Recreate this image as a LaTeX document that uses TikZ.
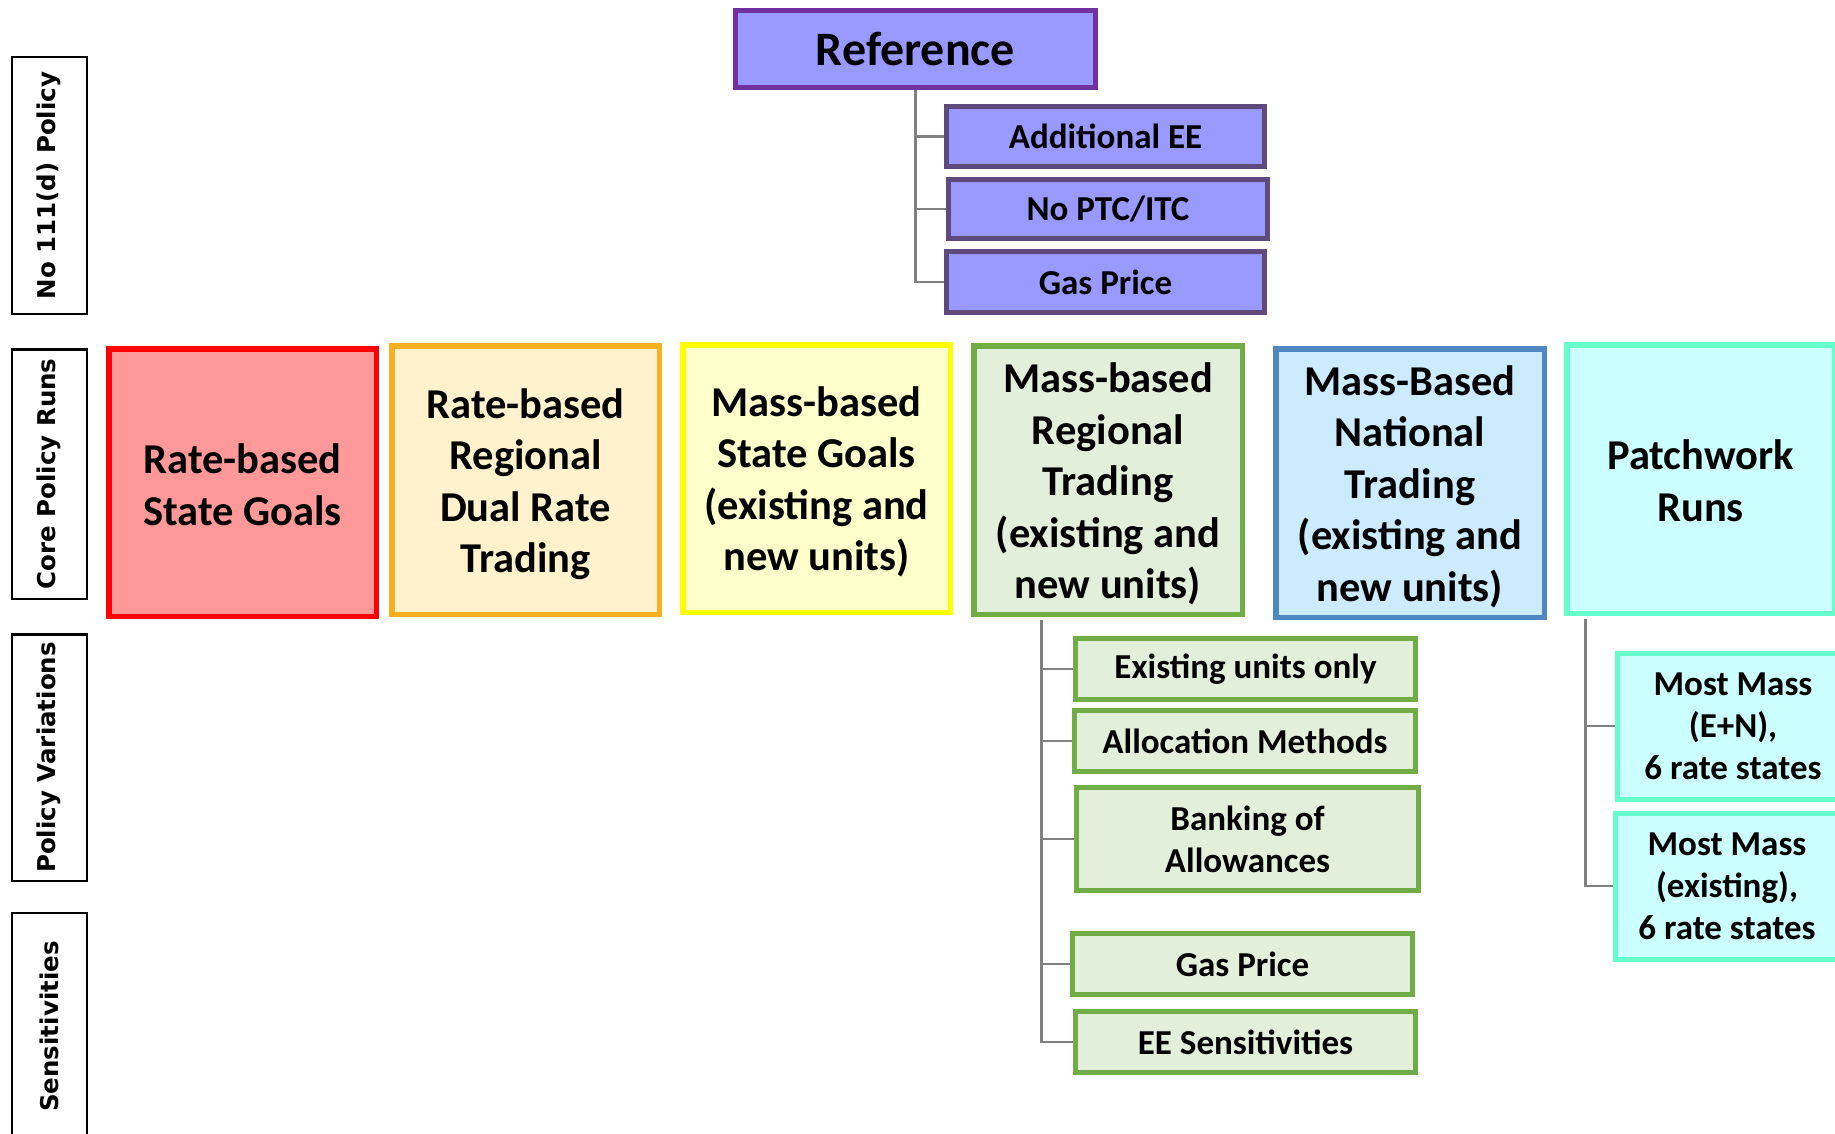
\documentclass[tikz,border=0pt]{standalone}
\usepackage{fontspec}
\newfontfamily\calfont{Carlito}
\newfontfamily\verfont{DejaVu Sans}
\definecolor{refborder}{HTML}{7030A0}
\definecolor{reffill}{HTML}{9999FF}
\definecolor{subpurple}{HTML}{5F4A7D}
\definecolor{redb}{HTML}{FF0000}
\definecolor{redf}{HTML}{FF9999}
\definecolor{orab}{HTML}{F5B120}
\definecolor{oraf}{HTML}{FFF2CC}
\definecolor{yelb}{HTML}{FFFF00}
\definecolor{yelf}{HTML}{FFFFCC}
\definecolor{greb}{HTML}{70AD47}
\definecolor{gref}{HTML}{E2EFDA}
\definecolor{blub}{HTML}{4F88C0}
\definecolor{bluf}{HTML}{CCEBFF}
\definecolor{teab}{HTML}{66FFCC}
\definecolor{teaf}{HTML}{CCFFFF}
\definecolor{conn}{HTML}{808080}
\tikzset{
  sidebox/.style={draw=black, line width=2.5pt, rotate=90, inner sep=0pt,
    font=\verfont\bfseries\fontsize{24.5}{29}\selectfont},
  corebox/.style={line width=5.5pt, inner sep=0pt},
  coretext/.style={align=center, inner sep=0pt,
    font=\calfont\bfseries\fontsize{42.5}{51.5}\selectfont},
  subbox/.style={line width=5pt, align=center, inner sep=0pt,
    font=\calfont\bfseries\fontsize{35}{42}\selectfont},
  connline/.style={draw=conn, line width=2.5pt}
}
\begin{document}
\begin{tikzpicture}[x=1pt,y=-1pt]
\useasboundingbox (0,0) rectangle (1835,1134);
\clip (0,0) rectangle (1835,1134);
\fill[white] (0,0) rectangle (1835,1134);

% side labels
\node[sidebox, minimum width=256.5pt, minimum height=75pt] (s1) at (49.25,185.5) {No 111(d) Policy};
\node[sidebox, minimum width=249.5pt, minimum height=75pt] (s2) at (49.25,474) {Core Policy Runs};
\node[sidebox, minimum width=246.5pt, minimum height=75pt] (s3) at (49.25,757.5) {Policy Variations};
\node[sidebox, minimum width=227pt, minimum height=75pt] (s4) at (49.25,1026.5) {Sensitivities};

% reference
\node[subbox, draw=refborder, fill=reffill, line width=5pt, minimum width=360pt, minimum height=77pt,
  font=\calfont\bfseries\fontsize{48}{56}\selectfont] (ref) at (915.5,49) {Reference};
\node[subbox, draw=subpurple, fill=reffill, minimum width=318pt, minimum height=60pt] (aee) at (1105.5,136.5) {Additional EE};
\node[subbox, draw=subpurple, fill=reffill, minimum width=319pt, minimum height=59pt] (ptc) at (1108,209) {No PTC/ITC};
\node[subbox, draw=subpurple, fill=reffill, minimum width=318pt, minimum height=61pt] (gas1) at (1105.5,282) {Gas Price};

% core runs
\node[corebox, draw=redb, fill=redf, minimum width=267.5pt, minimum height=267.5pt] (c1) at (242.5,482.5) {};
\node[corebox, draw=orab, fill=oraf, minimum width=267.5pt, minimum height=268.5pt] (c2) at (525.5,480) {};
\node[corebox, draw=yelb, fill=yelf, minimum width=267.5pt, minimum height=267.5pt] (c3) at (816.5,478.5) {};
\node[corebox, draw=greb, fill=gref, minimum width=268.5pt, minimum height=268.5pt] (c4) at (1108,480) {};
\node[corebox, draw=blub, fill=bluf, minimum width=268.5pt, minimum height=268.5pt] (c5) at (1410,483) {};
\node[corebox, draw=teab, fill=teaf, minimum width=267.5pt, minimum height=268.5pt] (c6) at (1700.5,479) {};
\node[coretext] (c1t) at ([yshift=-2pt]c1.center) {Rate-based\\State Goals};
\node[coretext] (c2t) at ([yshift=-4pt]c2.center) {Rate-based\\Regional\\Dual Rate\\Trading};
\node[coretext] (c3t) at ([yshift=-3.5pt]c3.center) {Mass-based\\State Goals\\(existing and\\new units)};
\node[coretext] (c4t) at ([yshift=-4pt]c4.center) {Mass-based\\Regional\\Trading\\(existing and\\new units)};
\node[coretext] (c5t) at ([yshift=-3.5pt]c5.center) {Mass-Based\\National\\Trading\\(existing and\\new units)};
\node[coretext] (c6t) at ([yshift=-1.5pt]c6.center) {Patchwork\\Runs};

% green variations
\node[subbox, draw=greb, fill=gref, minimum width=340pt, minimum height=61pt] (v1) at (1245.5,669) {Existing units only};
\node[subbox, draw=greb, fill=gref, minimum width=341pt, minimum height=61pt] (v2) at (1245,741) {Allocation Methods};
\node[subbox, draw=greb, fill=gref, minimum width=342pt, minimum height=103pt] (v3) at (1247.5,839) {Banking of\\Allowances};
\node[subbox, draw=greb, fill=gref, minimum width=340pt, minimum height=61pt] (v4) at (1242.5,964) {Gas Price};
\node[subbox, draw=greb, fill=gref, minimum width=340pt, minimum height=61pt] (v5) at (1245.5,1042) {EE Sensitivities};

% teal variations
\node[subbox, draw=teab, fill=teaf, minimum width=231pt, minimum height=146pt] (p1) at (1733,726) {Most Mass\\(E+N),\\6 rate states};
\node[subbox, draw=teab, fill=teaf, minimum width=223pt, minimum height=146pt] (p2) at (1727,886) {Most Mass\\(existing),\\6 rate states};

% connectors
\draw[connline] (ref.south) |- (gas1.west);
\draw[connline] (ref.south |- aee.west) -- (aee.west);
\draw[connline] (ref.south |- ptc.west) -- (ptc.west);

\coordinate (gt) at (1041.5,620);
\draw[connline] (gt) |- (v5.west);
\foreach \b in {v1,v2,v3,v4} \draw[connline] (gt |- \b.west) -- (\b.west);

\coordinate (pt) at (1585.7,619);
\draw[connline] (pt) |- (p2.west);
\draw[connline] (pt |- p1.west) -- (p1.west);
\end{tikzpicture}
\end{document}
